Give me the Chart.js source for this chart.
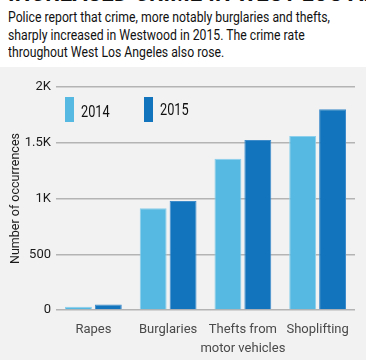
<!DOCTYPE html>
<html>
<head>
<meta charset="utf-8">
<script src="https://cdn.jsdelivr.net/npm/chart.js@4"></script>
<style>
  html, body { margin: 0; padding: 0; width: 366px; height: 360px; overflow: hidden; background: #fff; }
  body { position: relative; font-family: Roboto, sans-serif; }
  #title {
    position: absolute; left: 8px; top: -23px; white-space: nowrap;
    font-size: 26px; font-weight: bold; color: #111; letter-spacing: 0.3px;
    transform-origin: left top;
  }
  #sub {
    position: absolute; left: 8px; top: 9px; white-space: nowrap;
    font-size: 14.5px; line-height: 17.5px; color: #111;
    transform-origin: left top;
  }
  #wrap { position: absolute; left: 0; top: 67px; width: 366px; height: 293px; background: #f2f2f2; }
</style>
</head>
<body>
<div id="title">INCREASED CRIME IN WEST LOS ANGELES</div>
<div id="sub"><span id="l1">Police report that crime, more notably burglaries and thefts,</span><br>sharply increased in Westwood in 2015. The crime rate<br>throughout West Los Angeles also rose.</div>
<div id="wrap"><canvas id="chart"></canvas></div>
<script>
// Categories and counts read from the graphic
const categories = ["Rapes", "Burglaries", ["Thefts from", "motor vehicles"], "Shoplifting"];
const years = ["2014", "2015"];
const crimes2014 = [30, 912, 1357, 1561];
const crimes2015 = [50, 977, 1525, 1800];
const yTicks = [0, 500, 1000, 1500, 2000];

const FONT = "Roboto, sans-serif";
const light = "#56b9e2";
const dark = "#1174bd";

// squeeze the subtitle to the condensed width of the original
const sub = document.getElementById("sub");
const l1 = document.getElementById("l1").getBoundingClientRect().width;
sub.style.transform = "scaleX(" + (322 / l1) + ")";
document.getElementById("title").style.transform = "scaleX(0.85)";

// legend drawn inside the plot, top-left (tall narrow swatches)
const innerLegend = {
  id: "innerLegend",
  afterDraw(chart) {
    const ctx = chart.ctx;
    const area = chart.chartArea;
    ctx.save();
    ctx.font = "17px " + FONT;
    ctx.textBaseline = "alphabetic";
    ctx.textAlign = "left";
    chart.data.datasets.forEach((ds, i) => {
      const x = area.left + 9 + i * 79;
      const y = area.top + 10;
      ctx.fillStyle = ds.backgroundColor;
      ctx.fillRect(x, y, 9, 25);
      ctx.fillStyle = "#111";
      ctx.save();
      ctx.translate(x + 16, y + 20 - i * 2);
      ctx.scale(0.75, 1);
      ctx.fillText(ds.label, 0, 0);
      ctx.restore();
    });
    ctx.restore();
  },
};

new Chart(document.getElementById("chart"), {
  type: "bar",
  data: {
    labels: categories,
    datasets: [
      {
        label: years[0],
        data: crimes2014,
        backgroundColor: light,
        borderColor: "#8ccfec",
        borderWidth: 1,
      },
      {
        label: years[1],
        data: crimes2015,
        backgroundColor: dark,
        borderColor: "#3f8ccb",
        borderWidth: 1,
      },
    ],
  },
  options: {
    responsive: true,
    maintainAspectRatio: false,
    animation: false,
    layout: { padding: { top: 20, right: 11, left: 0, bottom: 0 } },
    plugins: {
      legend: { display: false },
      tooltip: { enabled: false },
    },
    scales: {
      x: {
        grid: { display: false, drawTicks: false },
        border: { display: false },
        ticks: {
          color: "#4a4a4a",
          font: { family: FONT, size: 13, lineHeight: 1.45 },
          padding: 10,
          maxRotation: 0,
          autoSkip: false,
        },
        afterFit(axis) { axis.height = 50; },
      },
      y: {
        min: 0,
        max: 2000,
        afterBuildTicks(axis) { axis.ticks = yTicks.map((v) => ({ value: v })); },
        grid: { color: "#b4b4b4", lineWidth: 1.5, drawTicks: false },
        border: { display: false },
        ticks: {
          color: "#1a1a1a",
          font: { family: FONT, size: 13 },
          padding: 5,
          callback: (v) => (v >= 1000 ? v / 1000 + "K" : v),
        },
        title: {
          display: true,
          text: "Number of occurrences",
          color: "#1a1a1a",
          font: { family: FONT, size: 12.5 },
          padding: { top: 8, bottom: 0 },
        },
        afterFit(axis) { axis.width = 56; },
      },
    },
  },
  plugins: [innerLegend],
});
</script>
</body>
</html>
